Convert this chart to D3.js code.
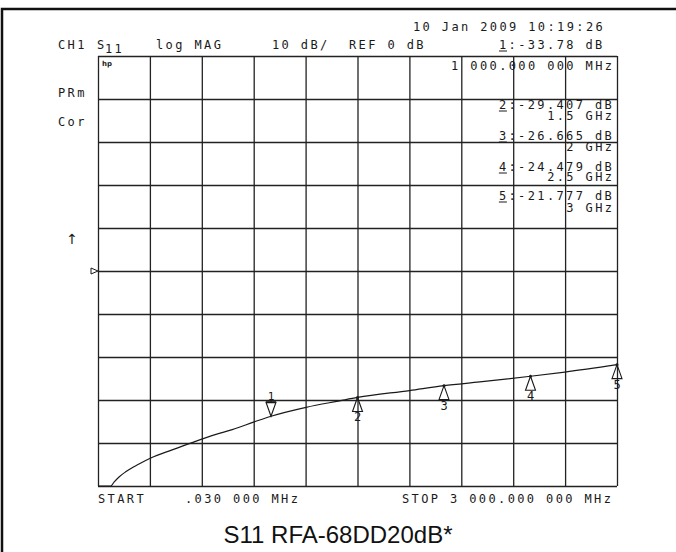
<!DOCTYPE html>
<html>
<head>
<meta charset="utf-8">
<script src="https://cdn.jsdelivr.net/npm/d3@7"></script>
<style>
  body { margin: 0; background: #fff; }
  svg { display: block; }
  .hp { font-family: "DejaVu Sans Mono", monospace; font-size: 12px; letter-spacing: 2.38px; fill: #1a1a1a; }
</style>
</head>
<body>
<svg id="chart" width="676" height="552"></svg>
<script>
// trace (MHz, dB)
const freqMHz = [0.03, 40, 73.5, 92.7, 121.6, 160, 237, 305, 428.6, 544, 682, 776, 903, 1000, 1203, 1396, 1500, 1801, 2000, 2207, 2500, 2699, 3000];
const s11dB = [-56, -52, -50.1, -49.1, -47.9, -46.7, -44.9, -43.5, -41.6, -39.9, -38.0, -36.9, -35.1, -33.78, -31.7, -30.2, -29.407, -27.8, -26.665, -25.8, -24.479, -23.5, -21.777];

// markers
const markerIds = ["1", "2", "3", "4", "5"];
const markerFreqMHz = [1000, 1500, 2000, 2500, 3000];
const markerDB = [-33.78, -29.407, -26.665, -24.479, -21.777];
const markerReadDB = ["-33.78", "-29.407", "-26.665", "-24.479", "-21.777"];
const markerReadFreq = ["1 000.000 000 MHz", "1.5 GHz", "2 GHz", "2.5 GHz", "3 GHz"];

// scale settings / labels
const startMHz = 0.03, stopMHz = 3000;
const refDB = 0, perDiv = 10;
const startLabel = ".030 000 MHz";
const stopLabel = "STOP 3 000.000 000 MHz";
const dateLabel = "10 Jan 2009  10:19:26";
const title = "S11 RFA-68DD20dB*";

const svg = d3.select("#chart");
const margin = { top: 56, right: 59, bottom: 66, left: 98 };
const W = 676, H = 552;

const x = d3.scaleLinear().domain([startMHz, stopMHz]).range([margin.left, W - margin.right]);
const y = d3.scaleLinear().domain([refDB - 5 * perDiv, refDB + 5 * perDiv])
  .range([H - margin.bottom, margin.top]).clamp(true);

// outer frame (cut off at right / bottom like the scan)
svg.append("path").attr("d", "M2,552V9H676")
  .attr("fill", "none").attr("stroke", "#111").attr("stroke-width", 2.5);

// grid via axes
const xDiv = d3.range(11).map(i => startMHz + i * (stopMHz - startMHz) / 10);
const yDiv = d3.range(-50, 51, perDiv);
const gridX = svg.append("g").attr("transform", `translate(0,${y.range()[0]})`)
  .call(d3.axisBottom(x).tickValues(xDiv).tickSize(-(y.range()[0] - y.range()[1])).tickFormat(""));
const gridY = svg.append("g").attr("transform", `translate(${x.range()[0]},0)`)
  .call(d3.axisLeft(y).tickValues(yDiv).tickSize(-(x.range()[1] - x.range()[0])).tickFormat(""));
[gridX, gridY].forEach(g => {
  g.select(".domain").remove();
  g.selectAll("line").attr("stroke", "#222").attr("stroke-width", 1.3);
});

// trace
const line = d3.line().x((d, i) => x(freqMHz[i])).y((d, i) => y(s11dB[i])).curve(d3.curveMonotoneX);
svg.append("path").datum(s11dB).attr("d", line)
  .attr("fill", "none").attr("stroke", "#1a1a1a").attr("stroke-width", 1.2);

// markers
markerIds.forEach((id, i) => {
  const mx = x(markerFreqMHz[i]), my = y(markerDB[i]);
  const g = svg.append("g").attr("stroke", "#1a1a1a").attr("fill", "none").attr("stroke-width", 1.1);
  if (i === 0) {
    g.append("path").attr("d", `M${mx},${my}L${mx - 5},${my - 14}L${mx + 5},${my - 14}Z`);
    g.append("line").attr("x1", mx - 5).attr("x2", mx + 5).attr("y1", my - 14).attr("y2", my - 14).attr("stroke-width", 2);
    g.append("line").attr("x1", mx).attr("x2", mx).attr("y1", my - 14).attr("y2", my - 17);
    svg.append("text").attr("x", mx).attr("y", my - 16).attr("text-anchor", "middle")
      .attr("font-family", "DejaVu Sans Mono").attr("font-size", 11).attr("fill", "#1a1a1a").text(id);
  } else {
    g.append("path").attr("d", `M${mx},${my}L${mx - 5},${my + 14}L${mx + 5},${my + 14}Z`);
    svg.append("circle").attr("cx", mx).attr("cy", my).attr("r", 1.5).attr("fill", "#1a1a1a");
    svg.append("text").attr("x", mx).attr("y", my + 24).attr("text-anchor", "middle")
      .attr("font-family", "DejaVu Sans Mono").attr("font-size", 12).attr("fill", "#1a1a1a").text(id);
  }
});

// reference position arrow at left
const ry = y(refDB);
svg.append("path").attr("d", `M${x.range()[0] - 7},${ry - 3}L${x.range()[0]},${ry}L${x.range()[0] - 7},${ry + 3}Z`)
  .attr("fill", "#fff").attr("stroke", "#1a1a1a").attr("stroke-width", 1);

// text helpers
function txt(str, tx, ty, cls = "hp") {
  return svg.append("text").attr("class", cls).attr("x", tx).attr("y", ty).text(str);
}
function txtEnd(str, tx, ty) {
  return txt(str, tx + 2.4, ty).attr("text-anchor", "end");
}
function underline(tx, ty) {
  svg.append("line").attr("x1", tx).attr("x2", tx + 8).attr("y1", ty + 2).attr("y2", ty + 2)
    .attr("stroke", "#1a1a1a").attr("stroke-width", 1);
}

// header
txt(dateLabel, 413, 31);
txt("CH1", 58, 49);
txt("S", 97, 49);
txt("11", 105, 53);
txt("log MAG", 156, 49);
txt(perDiv + " dB/", 272, 49);
txt("REF " + refDB + " dB", 349, 49);
txt(markerIds[0] + ":" + markerReadDB[0] + "  dB", 499, 49);
underline(499, 49);

// marker readout block
const readRight = 612;
txtEnd(markerReadFreq[0], readRight, 69.5);
const readBase = [109, 140, 171, 200];
const freqBase = [119.5, 151, 181, 212];
markerIds.slice(1).forEach((id, k) => {
  const i = k + 1;
  const s = id + ":" + markerReadDB[i] + " dB";
  const sx = readRight - 7.5 - (s.length - 1) * 9.6;
  txt(s, sx, readBase[k]);
  underline(sx, readBase[k]);
  txtEnd(markerReadFreq[i], readRight, freqBase[k]);
});

// left annotations
txt("PRm", 58, 97);
txt("Cor", 58, 126);
svg.append("text").attr("x", 72).attr("y", 244).attr("text-anchor", "middle")
  .attr("font-family", "DejaVu Sans").attr("font-size", 14).attr("fill", "#1a1a1a").text("\u2191");
svg.append("text").attr("x", 102).attr("y", 66).attr("font-family", "DejaVu Sans")
  .attr("font-size", 7).attr("font-weight", "bold").attr("fill", "#1a1a1a").text("hp");

// footer
txt("START", 98, 503);
txt(startLabel, 185, 503);
txt(stopLabel, 402, 503);

svg.append("text").attr("x", 338).attr("y", 543).attr("text-anchor", "middle")
  .attr("font-family", "Liberation Sans, Arial, sans-serif").attr("font-size", 24)
  .attr("fill", "#111").text(title);
</script>
</body>
</html>
